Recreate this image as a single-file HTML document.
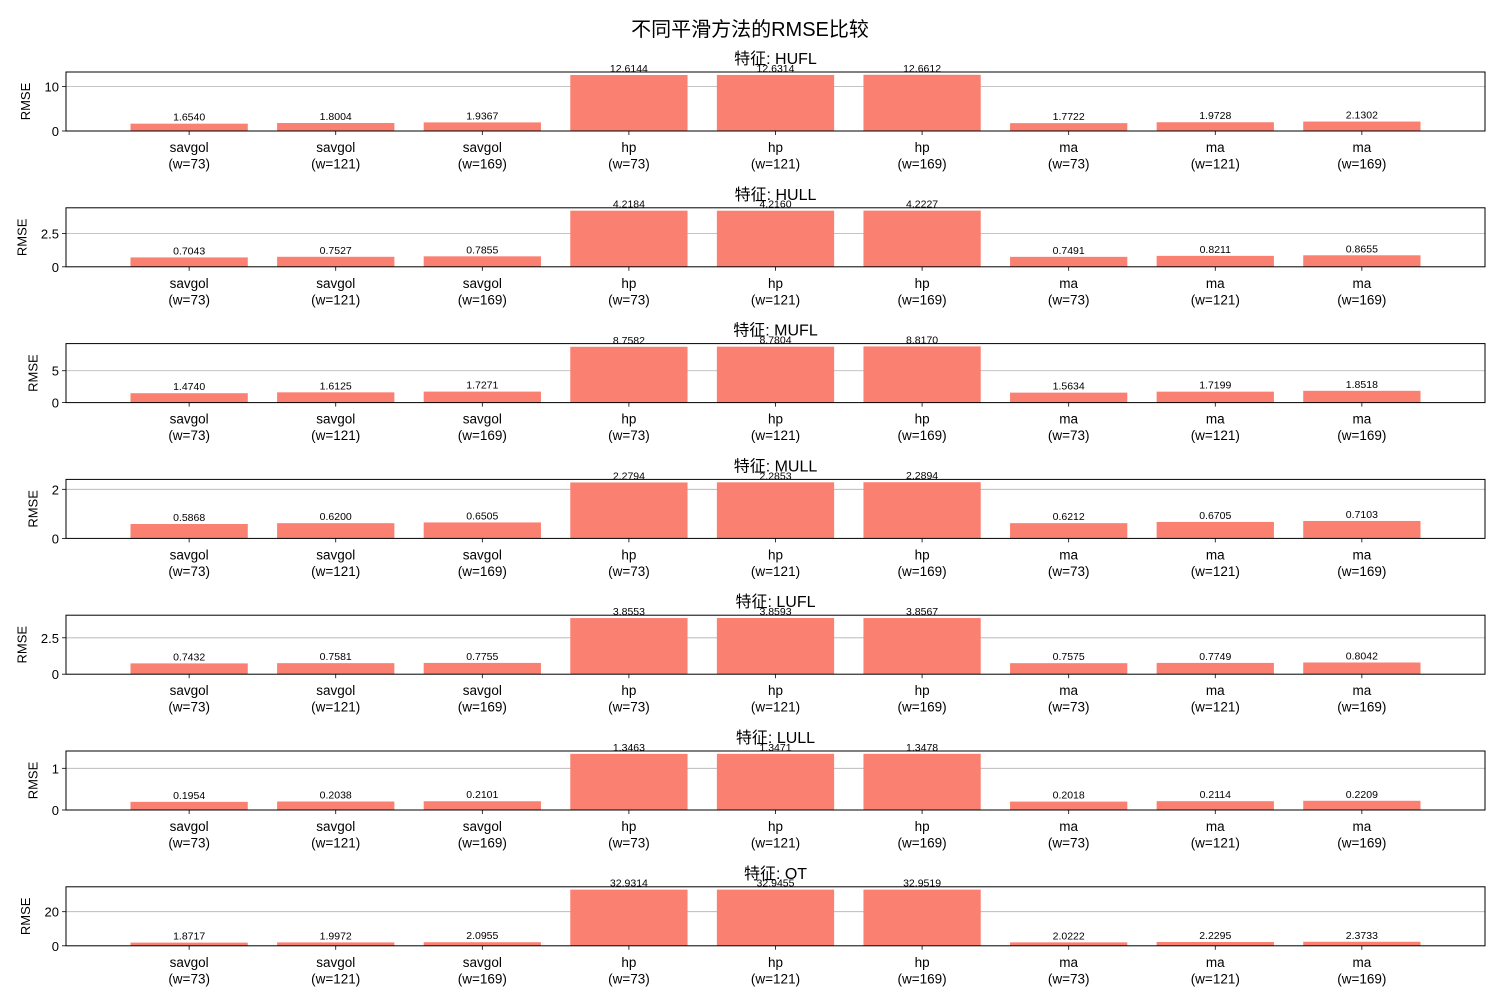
<!DOCTYPE html>
<html><head><meta charset="utf-8"><style>
html,body{margin:0;padding:0;background:#fff;}
svg{display:block;font-family:"Liberation Sans","DejaVu Sans","Noto Sans CJK SC",sans-serif;}
</style></head><body>
<svg id="chart" width="1500" height="1000" viewBox="0 0 1500 1000" xmlns="http://www.w3.org/2000/svg">
<rect width="1500" height="1000" fill="#fff"/>
<text x="750" y="36" font-size="20" text-anchor="middle" font-family="Liberation Sans, Noto Sans CJK SC, sans-serif">不同平滑方法的RMSE比较</text>
</svg>
<script>
const categories = ["savgol\n(w=73)","savgol\n(w=121)","savgol\n(w=169)","hp\n(w=73)","hp\n(w=121)","hp\n(w=169)","ma\n(w=73)","ma\n(w=121)","ma\n(w=169)"];
const features = ["HUFL","HULL","MUFL","MULL","LUFL","LULL","OT"];
const valuesHUFL = [1.6540,1.8004,1.9367,12.6144,12.6314,12.6612,1.7722,1.9728,2.1302];
const valuesHULL = [0.7043,0.7527,0.7855,4.2184,4.2160,4.2227,0.7491,0.8211,0.8655];
const valuesMUFL = [1.4740,1.6125,1.7271,8.7582,8.7804,8.8170,1.5634,1.7199,1.8518];
const valuesMULL = [0.5868,0.6200,0.6505,2.2794,2.2853,2.2894,0.6212,0.6705,0.7103];
const valuesLUFL = [0.7432,0.7581,0.7755,3.8553,3.8593,3.8567,0.7575,0.7749,0.8042];
const valuesLULL = [0.1954,0.2038,0.2101,1.3463,1.3471,1.3478,0.2018,0.2114,0.2209];
const valuesOT = [1.8717,1.9972,2.0955,32.9314,32.9455,32.9519,2.0222,2.2295,2.3733];
const yTicksHUFL=[0,10], yTicksHULL=[0,2.5], yTicksMUFL=[0,5], yTicksMULL=[0,2], yTicksLUFL=[0,2.5], yTicksLULL=[0,1], yTicksOT=[0,20];
const allValues=[valuesHUFL,valuesHULL,valuesMUFL,valuesMULL,valuesLUFL,valuesLULL,valuesOT];
const allTicks=[yTicksHUFL,yTicksHULL,yTicksMUFL,yTicksMULL,yTicksLUFL,yTicksLULL,yTicksOT];
const NS="http://www.w3.org/2000/svg";
const svg=document.getElementById('chart');
function mk(tag,attrs,parent,text){const e=document.createElementNS(NS,tag);for(const k in attrs)e.setAttribute(k,attrs[k]);if(text!==undefined)e.textContent=text;(parent||svg).appendChild(e);return e;}
const L=66,R=1485,H=59;
const n=categories.length;
const span=(n-1)+0.8;
const xmin=-0.4-0.05*span, xmax=(n-1)+0.4+0.05*span;
const xs=v=>L+(v-xmin)/(xmax-xmin)*(R-L);
function labelW(s){let w=0;for(const c of s)w+=(c==='.')?3.6:7.4;return w;}
features.forEach((f,i)=>{
  const top=72+i*135.8, bot=top+H;
  const vals=allValues[i], ticks=allTicks[i];
  const ymax=Math.max(...vals)*1.05;
  const ys=v=>bot-v/ymax*H;
  const g=mk('g',{});
  
  
  let maxW=0;
  ticks.forEach(t=>{
    maxW=Math.max(maxW,labelW(String(t)));
    if(t>0){const gl=mk('line',{x1:L,x2:R,y1:ys(t),y2:ys(t),stroke:'#b0b0b0','stroke-width':0.8},g);
      }
    const tk=mk('line',{x1:L-4,x2:L,y1:ys(t),y2:ys(t),stroke:'#000','stroke-width':0.8},g);
    
    const tl=mk('text',{x:L-7,y:ys(t)+5,'font-size':13,'text-anchor':'end'},g,String(t));
    
  });
  vals.forEach((v,j)=>{
    const x0=xs(j-0.4),x1=xs(j+0.4);
    const b=mk('rect',{x:x0,y:ys(v),width:x1-x0,height:bot-ys(v),fill:'#FA8072'},g);
    
    const vl=mk('text',{x:xs(j),y:ys(v)-3,'font-size':10.5,'text-anchor':'middle'},g,v.toFixed(4));
    
    const tk=mk('line',{x1:xs(j),x2:xs(j),y1:bot,y2:bot+4,stroke:'#000','stroke-width':0.8},g);
    
    const parts=categories[j].split('\n');
    const xl=mk('text',{x:xs(j),y:bot+21,'font-size':13.5,'text-anchor':'middle'},g);
    
    parts.forEach((p,k)=>mk('tspan',{x:xs(j),dy:k?16.5:0},xl,p));
  });
  const fr=mk('rect',{x:L,y:top,width:R-L,height:H,fill:'none',stroke:'#000','stroke-width':1},g);
  
  const st=mk('text',{x:(L+R)/2,y:top-8,'font-size':16,'text-anchor':'middle'},g,'特征: '+f);
  
  const yx=L-7-maxW-18;
  const yl=mk('text',{x:0,y:0,'font-size':13,'text-anchor':'middle',transform:`translate(${yx+4},${top+H/2}) rotate(-90)`},g,'RMSE');
  
});
</script>
</body></html>
